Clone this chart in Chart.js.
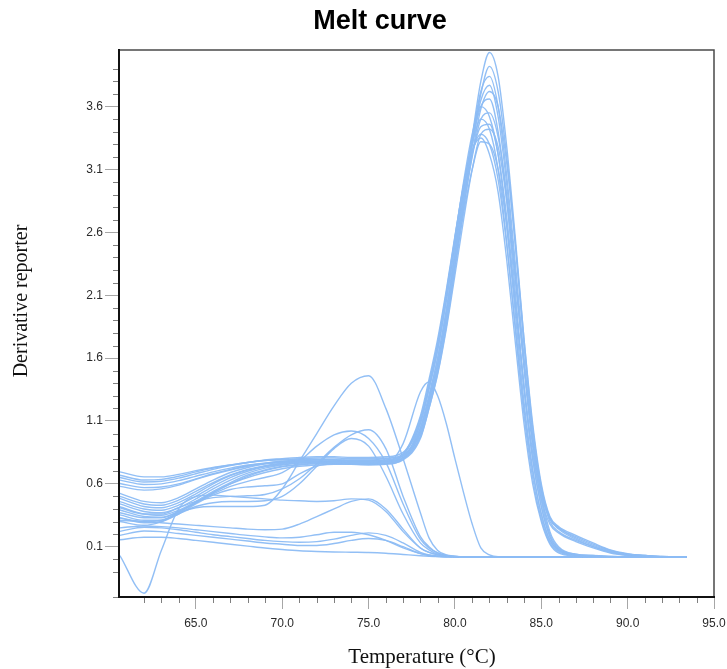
<!DOCTYPE html>
<html>
<head>
<meta charset="utf-8">
<title>Melt curve</title>
<script src="https://cdn.jsdelivr.net/npm/chart.js@4.4.0/dist/chart.umd.min.js"></script>
<style>
  html, body { margin: 0; padding: 0; background: #fff; }
</style>
</head>
<body>
<canvas id="melt-chart" width="727" height="669"></canvas>
<script>
// Températures communes à toutes les courbes (°C)
const temperatures = [60.6, 62, 63, 64, 65, 66, 67, 68, 69, 70, 71, 72, 73, 74, 75, 76, 77,
  78, 78.5, 79, 79.5, 80, 80.5, 81, 81.5, 82,
  82.5, 83, 83.5, 84, 84.5, 85, 85.5, 86,
  87, 88, 89, 90, 91, 92, 93.4];

// Puits avec le pic principal (~82 °C)
const wellM01 = [0.695, 0.655, 0.655, 0.675, 0.705, 0.73, 0.75, 0.77, 0.785, 0.795, 0.8, 0.805, 0.805, 0.8, 0.8, 0.805, 0.83,
  1.0, 1.24, 1.52, 1.9, 2.38, 2.88, 3.36, 3.8, 4.03,
  3.84, 3.28, 2.55, 1.75, 1.05, 0.58, 0.33, 0.25,
  0.17, 0.11, 0.065, 0.04, 0.03, 0.022, 0.02];
const wellM02 = [0.58, 0.55, 0.56, 0.59, 0.635, 0.675, 0.71, 0.74, 0.76, 0.77, 0.775, 0.775, 0.77, 0.765, 0.765, 0.77, 0.8,
  0.98, 1.22, 1.5, 1.88, 2.35, 2.85, 3.3, 3.7, 3.92,
  3.72, 3.2, 2.5, 1.7, 1.0, 0.52, 0.22, 0.1,
  0.04, 0.03, 0.025, 0.02, 0.02, 0.02, 0.02];
const wellM03 = [0.524, 0.46, 0.45, 0.49, 0.56, 0.63, 0.69, 0.73, 0.76, 0.775, 0.785, 0.79, 0.79, 0.785, 0.785, 0.79, 0.82,
  1.05, 1.3, 1.6, 1.98, 2.45, 2.92, 3.35, 3.72, 3.84,
  3.6, 3.05, 2.35, 1.6, 0.95, 0.52, 0.32, 0.24,
  0.16, 0.1, 0.06, 0.035, 0.025, 0.02, 0.02];
const wellM04 = [0.668, 0.63, 0.635, 0.66, 0.695, 0.725, 0.75, 0.77, 0.785, 0.79, 0.795, 0.795, 0.79, 0.79, 0.79, 0.8, 0.83,
  1.02, 1.28, 1.56, 1.95, 2.42, 2.88, 3.3, 3.65, 3.77,
  3.52, 2.98, 2.28, 1.52, 0.9, 0.47, 0.2, 0.09,
  0.04, 0.03, 0.02, 0.02, 0.02, 0.02, 0.02];
const wellM05 = [0.5, 0.44, 0.43, 0.47, 0.54, 0.61, 0.67, 0.715, 0.745, 0.765, 0.775, 0.78, 0.78, 0.775, 0.775, 0.78, 0.8,
  0.97, 1.2, 1.48, 1.85, 2.3, 2.78, 3.22, 3.58, 3.72,
  3.6, 3.15, 2.5, 1.75, 1.08, 0.6, 0.34, 0.26,
  0.19, 0.13, 0.075, 0.045, 0.03, 0.022, 0.02];
const wellM06 = [0.484, 0.42, 0.41, 0.45, 0.52, 0.6, 0.665, 0.71, 0.74, 0.76, 0.77, 0.775, 0.775, 0.77, 0.77, 0.78, 0.83,
  1.08, 1.35, 1.66, 2.05, 2.5, 2.95, 3.32, 3.6, 3.66,
  3.4, 2.85, 2.12, 1.38, 0.8, 0.42, 0.18, 0.08,
  0.035, 0.025, 0.02, 0.02, 0.02, 0.02, 0.02];
const wellM07 = [0.65, 0.615, 0.62, 0.645, 0.68, 0.715, 0.745, 0.77, 0.79, 0.8, 0.81, 0.815, 0.815, 0.81, 0.81, 0.815, 0.85,
  1.1, 1.38, 1.7, 2.1, 2.55, 3.0, 3.38, 3.6, 3.52,
  3.22, 2.65, 1.95, 1.25, 0.72, 0.36, 0.15, 0.07,
  0.03, 0.02, 0.02, 0.02, 0.02, 0.02, 0.02];
const wellM08 = [0.458, 0.4, 0.39, 0.43, 0.5, 0.58, 0.65, 0.7, 0.735, 0.755, 0.765, 0.77, 0.77, 0.765, 0.76, 0.765, 0.8,
  1.0, 1.25, 1.52, 1.9, 2.35, 2.8, 3.2, 3.5, 3.55,
  3.36, 2.9, 2.25, 1.55, 0.95, 0.54, 0.3, 0.22,
  0.15, 0.1, 0.055, 0.035, 0.025, 0.02, 0.02];
const wellM09 = [0.44, 0.38, 0.37, 0.41, 0.48, 0.56, 0.63, 0.685, 0.725, 0.75, 0.765, 0.775, 0.775, 0.77, 0.77, 0.775, 0.83,
  1.12, 1.4, 1.72, 2.12, 2.56, 2.98, 3.3, 3.5, 3.42,
  3.1, 2.52, 1.82, 1.15, 0.65, 0.32, 0.13, 0.06,
  0.03, 0.02, 0.02, 0.02, 0.02, 0.02, 0.02];
const wellM10 = [0.629, 0.595, 0.6, 0.625, 0.66, 0.695, 0.725, 0.75, 0.765, 0.775, 0.78, 0.78, 0.775, 0.77, 0.77, 0.775, 0.81,
  1.04, 1.3, 1.6, 1.98, 2.42, 2.85, 3.22, 3.44, 3.46,
  3.22, 2.72, 2.05, 1.35, 0.8, 0.42, 0.18, 0.08,
  0.035, 0.025, 0.02, 0.02, 0.02, 0.02, 0.02];
const wellM11 = [0.418, 0.36, 0.35, 0.39, 0.46, 0.54, 0.61, 0.67, 0.71, 0.74, 0.755, 0.765, 0.765, 0.76, 0.755, 0.76, 0.79,
  0.96, 1.2, 1.47, 1.83, 2.26, 2.7, 3.1, 3.38, 3.42,
  3.28, 2.85, 2.22, 1.55, 0.95, 0.55, 0.32, 0.25,
  0.18, 0.12, 0.07, 0.04, 0.03, 0.02, 0.02];
const wellM12 = [0.392, 0.34, 0.335, 0.38, 0.45, 0.53, 0.6, 0.66, 0.705, 0.735, 0.75, 0.76, 0.76, 0.755, 0.75, 0.755, 0.8,
  1.08, 1.36, 1.67, 2.06, 2.5, 2.92, 3.24, 3.38, 3.3,
  3.02, 2.5, 1.85, 1.2, 0.7, 0.36, 0.15, 0.07,
  0.03, 0.02, 0.02, 0.02, 0.02, 0.02, 0.02];
const wellM13 = [0.603, 0.57, 0.575, 0.6, 0.64, 0.68, 0.715, 0.745, 0.765, 0.78, 0.79, 0.79, 0.79, 0.785, 0.785, 0.79, 0.84,
  1.14, 1.43, 1.75, 2.14, 2.57, 2.97, 3.25, 3.35, 3.22,
  2.92, 2.38, 1.72, 1.08, 0.6, 0.3, 0.12, 0.05,
  0.025, 0.02, 0.02, 0.02, 0.02, 0.02, 0.02];
const wellM14 = [0.353, 0.31, 0.31, 0.36, 0.44, 0.51, 0.555, 0.575, 0.585, 0.6, 0.68, 0.74, 0.76, 0.765, 0.765, 0.77, 0.8,
  1.02, 1.27, 1.55, 1.92, 2.34, 2.75, 3.1, 3.32, 3.3,
  3.1, 2.65, 2.02, 1.38, 0.85, 0.48, 0.28, 0.21,
  0.14, 0.09, 0.05, 0.03, 0.022, 0.02, 0.02];

// Puits avec des pics secondaires (dimères, produits non spécifiques)
const wellB = [0.327, 0.3, 0.31, 0.37, 0.45, 0.53, 0.6, 0.65, 0.69, 0.72, 0.74, 0.75, 0.755, 0.755, 0.755, 0.76, 0.92,
  1.33, 1.41, 1.3, 1.08, 0.8, 0.53, 0.28, 0.09, 0.035,
  0.02, 0.02, 0.02, 0.02, 0.02, 0.02, 0.02, 0.02,
  0.02, 0.02, 0.02, 0.02, 0.02, 0.02, 0.02];
const wellA = [0.3, 0.27, 0.3, 0.37, 0.41, 0.42, 0.42, 0.42, 0.43, 0.56, 0.78, 1.0, 1.22, 1.4, 1.46, 1.2, 0.8,
  0.37, 0.17, 0.07, 0.035, 0.025, 0.02, 0.02, 0.02, 0.02,
  0.02, 0.02, 0.02, 0.02, 0.02, 0.02, 0.02, 0.02,
  0.02, 0.02, 0.02, 0.02, 0.02, 0.02, 0.02];
const wellC1 = [0.37, 0.33, 0.33, 0.38, 0.45, 0.52, 0.58, 0.62, 0.65, 0.69, 0.78, 0.9, 0.99, 1.02, 0.96, 0.77, 0.44,
  0.16, 0.09, 0.05, 0.03, 0.022, 0.02, 0.02, 0.02, 0.02,
  0.02, 0.02, 0.02, 0.02, 0.02, 0.02, 0.02, 0.02,
  0.02, 0.02, 0.02, 0.02, 0.02, 0.02, 0.02];
const wellC2 = [0.41, 0.36, 0.36, 0.41, 0.46, 0.49, 0.5, 0.505, 0.515, 0.56, 0.64, 0.76, 0.89, 0.99, 1.03, 0.88, 0.5,
  0.18, 0.1, 0.05, 0.03, 0.022, 0.02, 0.02, 0.02, 0.02,
  0.02, 0.02, 0.02, 0.02, 0.02, 0.02, 0.02, 0.02,
  0.02, 0.02, 0.02, 0.02, 0.02, 0.02, 0.02];
const wellC3 = [0.33, 0.29, 0.3, 0.36, 0.42, 0.45, 0.46, 0.46, 0.465, 0.5, 0.6, 0.74, 0.88, 0.96, 0.9, 0.66, 0.36,
  0.13, 0.075, 0.04, 0.025, 0.02, 0.02, 0.02, 0.02, 0.02,
  0.02, 0.02, 0.02, 0.02, 0.02, 0.02, 0.02, 0.02,
  0.02, 0.02, 0.02, 0.02, 0.02, 0.02, 0.02];
const wellD1 = [0.03, -0.27, 0.07, 0.4, 0.5, 0.51, 0.5, 0.49, 0.48, 0.47, 0.465, 0.46, 0.465, 0.48, 0.47, 0.38, 0.22,
  0.09, 0.055, 0.035, 0.025, 0.02, 0.02, 0.02, 0.02, 0.02,
  0.02, 0.02, 0.02, 0.02, 0.02, 0.02, 0.02, 0.02,
  0.02, 0.02, 0.02, 0.02, 0.02, 0.02, 0.02];
const wellD2 = [0.31, 0.3, 0.29, 0.28, 0.27, 0.26, 0.25, 0.24, 0.235, 0.24, 0.28, 0.34, 0.4, 0.46, 0.48, 0.4, 0.24,
  0.09, 0.055, 0.035, 0.025, 0.02, 0.02, 0.02, 0.02, 0.02,
  0.02, 0.02, 0.02, 0.02, 0.02, 0.02, 0.02, 0.02,
  0.02, 0.02, 0.02, 0.02, 0.02, 0.02, 0.02];
const wellE1 = [0.25, 0.265, 0.26, 0.25, 0.235, 0.22, 0.205, 0.19, 0.178, 0.17, 0.175, 0.195, 0.215, 0.215, 0.195, 0.15, 0.09,
  0.045, 0.032, 0.025, 0.02, 0.02, 0.02, 0.02, 0.02, 0.02,
  0.02, 0.02, 0.02, 0.02, 0.02, 0.02, 0.02, 0.02,
  0.02, 0.02, 0.02, 0.02, 0.02, 0.02, 0.02];
const wellE2 = [0.222, 0.255, 0.25, 0.235, 0.215, 0.195, 0.18, 0.165, 0.15, 0.14, 0.135, 0.14, 0.16, 0.19, 0.21, 0.19, 0.13,
  0.055, 0.035, 0.025, 0.02, 0.02, 0.02, 0.02, 0.02, 0.02,
  0.02, 0.02, 0.02, 0.02, 0.02, 0.02, 0.02, 0.02,
  0.02, 0.02, 0.02, 0.02, 0.02, 0.02, 0.02];
const wellE3 = [0.19, 0.225, 0.22, 0.205, 0.19, 0.175, 0.16, 0.145, 0.13, 0.12, 0.11, 0.11, 0.125, 0.15, 0.165, 0.15, 0.1,
  0.045, 0.03, 0.022, 0.02, 0.02, 0.02, 0.02, 0.02, 0.02,
  0.02, 0.02, 0.02, 0.02, 0.02, 0.02, 0.02, 0.02,
  0.02, 0.02, 0.02, 0.02, 0.02, 0.02, 0.02];
const wellF1 = [0.155, 0.175, 0.175, 0.165, 0.15, 0.135, 0.12, 0.105, 0.09, 0.078, 0.068, 0.062, 0.058, 0.056, 0.054, 0.048, 0.038,
  0.028, 0.024, 0.021, 0.02, 0.02, 0.02, 0.02, 0.02, 0.02,
  0.02, 0.02, 0.02, 0.02, 0.02, 0.02, 0.02, 0.02,
  0.02, 0.02, 0.02, 0.02, 0.02, 0.02, 0.02];

const wells = [wellM01, wellM02, wellM03, wellM04, wellM05, wellM06, wellM07, wellM08, wellM09, wellM10,
  wellM11, wellM12, wellM13, wellM14, wellB, wellA, wellC1, wellC2, wellC3, wellD1, wellD2,
  wellE1, wellE2, wellE3, wellF1];

// Graduations
const yMajorTicks = [0.1, 0.6, 1.1, 1.6, 2.1, 2.6, 3.1, 3.6];
const xMajorTicks = [65, 70, 75, 80, 85, 90, 95];

const CURVE_COLOR = 'rgba(140, 188, 244, 0.95)';

function isMajor(list, value) {
  return list.some(m => Math.abs(m - value) < 1e-6);
}

// Cadre, graduations mineures, titres
const meltFramePlugin = {
  id: 'meltFrame',
  afterDraw(chart) {
    const { ctx, chartArea: a, scales } = chart;
    ctx.save();

    // graduations mineures
    ctx.strokeStyle = '#808080';
    ctx.lineWidth = 1;
    scales.y.ticks.forEach(t => {
      if (isMajor(yMajorTicks, t.value) || Math.abs(t.value * 10 - Math.round(t.value * 10)) > 1e-6) return;
      const y = Math.round(scales.y.getPixelForValue(t.value)) + 0.5;
      ctx.beginPath();
      ctx.moveTo(a.left - 6, y);
      ctx.lineTo(a.left, y);
      ctx.stroke();
    });
    scales.x.ticks.forEach(t => {
      if (isMajor(xMajorTicks, t.value) || Math.abs(t.value - Math.round(t.value)) > 1e-6) return;
      const x = Math.round(scales.x.getPixelForValue(t.value)) + 0.5;
      ctx.beginPath();
      ctx.moveTo(x, a.bottom);
      ctx.lineTo(x, a.bottom + 6);
      ctx.stroke();
    });

    // cadre
    ctx.strokeStyle = '#4a4a4a';
    ctx.lineWidth = 1.5;
    ctx.beginPath();
    ctx.moveTo(a.left, a.top);
    ctx.lineTo(a.right, a.top);
    ctx.lineTo(a.right, a.bottom);
    ctx.stroke();
    ctx.strokeStyle = '#111';
    ctx.lineWidth = 2;
    ctx.beginPath();
    ctx.moveTo(a.left, a.top - 1);
    ctx.lineTo(a.left, a.bottom);
    ctx.lineTo(a.right + 1, a.bottom);
    ctx.stroke();

    // titres
    ctx.fillStyle = '#000';
    ctx.textAlign = 'center';
    ctx.textBaseline = 'middle';
    ctx.font = 'bold 27px "Liberation Sans", Arial, sans-serif';
    ctx.fillText('Melt curve', 380, 22);

    ctx.fillStyle = '#111';
    ctx.font = '21px "Liberation Serif", "Times New Roman", serif';
    ctx.fillText('Temperature (°C)', 422, 657);

    ctx.font = '20px "Liberation Serif", "Times New Roman", serif';
    ctx.translate(22, 301);
    ctx.rotate(-Math.PI / 2);
    ctx.fillText('Derivative reporter', 0, 0);
    ctx.restore();
  }
};

const chartElement = document.getElementById('melt-chart');

new Chart(chartElement, {
  type: 'line',
  data: {
    datasets: wells.map((values, i) => ({
      label: 'Well ' + (i + 1),
      data: temperatures.map((t, j) => ({ x: t, y: values[j] })),
      borderColor: CURVE_COLOR,
      borderWidth: 1.4,
      pointRadius: 0,
      fill: false,
      cubicInterpolationMode: 'monotone'
    }))
  },
  options: {
    responsive: false,
    animation: false,
    devicePixelRatio: 1,
    layout: { padding: { left: 0, top: 50, right: 13, bottom: 0 } },
    plugins: {
      legend: { display: false },
      tooltip: { enabled: false },
      title: { display: false }
    },
    scales: {
      x: {
        type: 'linear',
        min: 60.55,
        max: 95,
        afterFit(scale) {
          scale.height = 72;
          // le libellé « 95.0 » peut déborder dans la marge droite
          scale.paddingLeft = 0;
          scale.paddingRight = 0;
        },
        border: { display: false },
        grid: {
          drawOnChartArea: false,
          tickLength: 12,
          lineWidth: 1,
          tickColor: ctx => (ctx.tick && isMajor(xMajorTicks, ctx.tick.value)) ? '#a6a6a6' : 'rgba(0,0,0,0)'
        },
        ticks: {
          stepSize: 1,
          autoSkip: false,
          maxRotation: 0,
          padding: 7,
          color: '#2a2a2a',
          font: { family: '"Liberation Sans", Arial, sans-serif', size: 12 },
          callback: value => isMajor(xMajorTicks, value) ? value.toFixed(1) : ''
        }
      },
      y: {
        min: -0.3,
        max: 4.05,
        afterFit(scale) {
          scale.width = 119;
          scale.paddingTop = 0;
          scale.paddingBottom = 0;
        },
        border: { display: false },
        grid: {
          drawOnChartArea: false,
          tickLength: 14,
          lineWidth: 1,
          tickColor: ctx => (ctx.tick && isMajor(yMajorTicks, ctx.tick.value)) ? '#a6a6a6' : 'rgba(0,0,0,0)'
        },
        ticks: {
          stepSize: 0.1,
          autoSkip: false,
          padding: 2,
          color: '#2a2a2a',
          font: { family: '"Liberation Sans", Arial, sans-serif', size: 12 },
          callback: value => isMajor(yMajorTicks, value) ? value.toFixed(1) : ''
        }
      }
    }
  },
  plugins: [meltFramePlugin]
});
</script>
</body>
</html>
